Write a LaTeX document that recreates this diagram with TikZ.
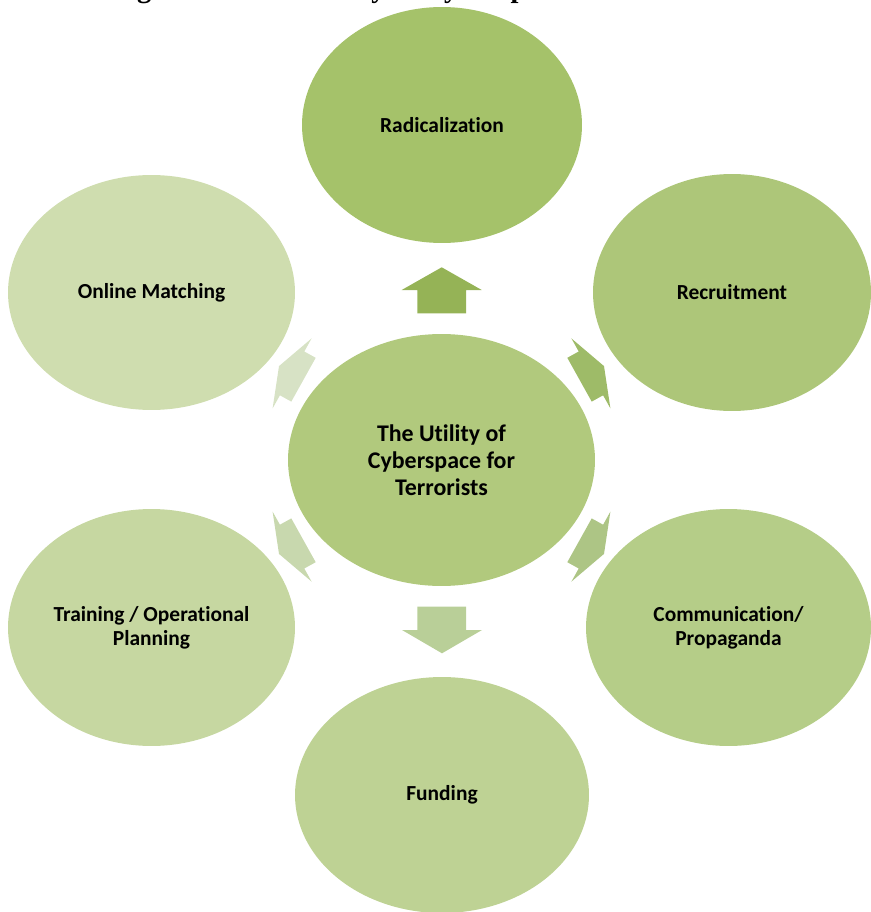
\documentclass[tikz,border=0pt]{standalone}
\usepackage{fontspec}
\setsansfont{Carlito}[Ligatures=NoCommon]
\newfontfamily\titlefont{Liberation Serif}
\usetikzlibrary{shapes.geometric}

\definecolor{radfill}{HTML}{A5C26A}
\definecolor{recfill}{HTML}{ADC679}
\definecolor{comfill}{HTML}{B5CD88}
\definecolor{funfill}{HTML}{BED294}
\definecolor{trafill}{HTML}{C6D7A1}
\definecolor{onlfill}{HTML}{CFDDAF}
\definecolor{hubfill}{HTML}{B1C97D}

\tikzset{
  bubble/.style={ellipse, inner sep=0pt, align=center,
    font=\sffamily\bfseries\fontsize{12.2}{13.8}\selectfont},
  hubble/.style={bubble, font=\sffamily\bfseries\fontsize{13.6}{15.2}\selectfont},
}

\begin{document}
\begin{tikzpicture}[x=0.02cm, y=-0.02cm]
\useasboundingbox (0,0) rectangle (871,912);
\clip (0,0) rectangle (871,912);

\node[anchor=base west, inner sep=0pt,
  font=\titlefont\bfseries\fontsize{16.2}{19}\selectfont] (title) at (111.5,-2)
  {Figure 2.1: The Utility of Cyberspace for Terrorists};

\node[hubble, fill=hubfill, minimum width=6.14cm, minimum height=5.04cm]
  (hub) at (441.5,460) {The Utility of\\Cyberspace for\\Terrorists};

\node[bubble, fill=radfill, minimum width=5.6cm, minimum height=4.72cm]
  (rad) at (442,125) {Radicalization};
\node[bubble, fill=recfill, minimum width=5.56cm, minimum height=4.74cm]
  (rec) at (732,292.5) {Recruitment};
\node[bubble, fill=comfill, minimum width=5.7cm, minimum height=4.74cm]
  (com) at (728.5,627.5) {Communication/\\Propaganda};
\node[bubble, fill=funfill, minimum width=5.88cm, minimum height=4.72cm]
  (fun) at (442,795) {Funding};
\node[bubble, fill=trafill, minimum width=5.74cm, minimum height=4.74cm]
  (tra) at (151.5,627.5) {Training / Operational\\Planning};
\node[bubble, fill=onlfill, minimum width=5.74cm, minimum height=4.7cm]
  (onl) at (151.5,292.5) {Online Matching};

% block arrows from the hub outwards
\fill[color={rgb,255:red,149;green,179;blue,86}] (441.7,267.3) -- (481.7,290) -- (466,290)
  -- (466,313.3) -- (417.3,313.3) -- (417.3,290) -- (401.7,290) -- cycle;
\fill[color={rgb,255:red,158;green,187;blue,104}] (604.0,366.1) -- (610.4,408.4) -- (603.1,395.3)
  -- (591.7,401.6) -- (567.3,357.8) -- (578.7,351.5) -- (571.4,338.4) -- cycle;
\fill[color={rgb,255:red,173;green,197;blue,133}] (604.0,553.9) -- (610.4,511.6) -- (603.1,524.7)
  -- (591.7,518.4) -- (567.3,562.2) -- (578.7,568.5) -- (571.4,581.6) -- cycle;
\fill[color={rgb,255:red,185;green,207;blue,152}] (442,653.3) -- (482,630) -- (466,630)
  -- (466,606.7) -- (417.3,606.7) -- (417.3,630) -- (402,630) -- cycle;
\fill[color={rgb,255:red,200;green,216;blue,174}] (279.0,553.9) -- (272.6,511.6) -- (279.9,524.7)
  -- (291.3,518.4) -- (315.7,562.2) -- (304.3,568.5) -- (311.6,581.6) -- cycle;
\fill[color={rgb,255:red,215;green,226;blue,197}] (279.0,366.1) -- (272.6,408.4) -- (279.9,395.3)
  -- (291.3,401.6) -- (315.7,357.8) -- (304.3,351.5) -- (311.6,338.4) -- cycle;

\end{tikzpicture}
\end{document}
